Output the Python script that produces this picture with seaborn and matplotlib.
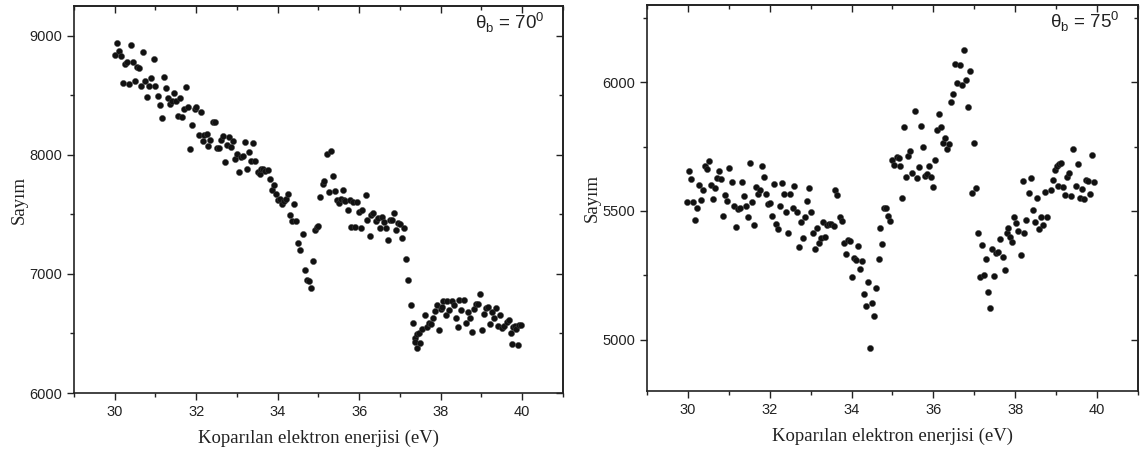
import matplotlib
matplotlib.use("Agg")
import matplotlib.pyplot as plt
from matplotlib.ticker import MultipleLocator
import seaborn as sns

# theta_b = 70 deg panel
energy_70 = [
    30.00, 30.05, 30.10, 30.15, 30.20, 30.26, 30.31, 30.35, 30.40, 30.46,
    30.50, 30.55, 30.60, 30.64, 30.70, 30.75, 30.80, 30.85, 30.90, 30.96,
    31.00, 31.05, 31.10, 31.15, 31.20, 31.26, 31.30, 31.36, 31.41, 31.46,
    31.51, 31.56, 31.60, 31.66, 31.70, 31.75, 31.80, 31.85, 31.90, 31.96,
    32.00, 32.06, 32.11, 32.16, 32.20, 32.26, 32.30, 32.35, 32.40, 32.45,
    32.50, 32.55, 32.60, 32.65, 32.70, 32.75, 32.80, 32.85, 32.90, 32.96,
    33.00, 33.05, 33.10, 33.15, 33.20, 33.25, 33.30, 33.35, 33.40, 33.45,
    33.51, 33.56, 33.60, 33.65, 33.70, 33.76, 33.81, 33.86, 33.91, 33.96,
    34.01, 34.05, 34.11, 34.16, 34.21, 34.26, 34.31, 34.36, 34.41, 34.46,
    34.51, 34.55, 34.61, 34.66, 34.71, 34.76, 34.81, 34.86, 34.91, 34.96,
    35.00, 35.05, 35.10, 35.14, 35.20, 35.26, 35.31, 35.35, 35.40, 35.46,
    35.51, 35.55, 35.60, 35.63, 35.66, 35.72, 35.77, 35.81, 35.85, 35.90,
    35.94, 36.00, 36.04, 36.08, 36.16, 36.20, 36.26, 36.30, 36.35, 36.41,
    36.45, 36.51, 36.55, 36.61, 36.66, 36.71, 36.75, 36.81, 36.86, 36.91,
    36.96, 37.01, 37.06, 37.11, 37.16, 37.20, 37.26, 37.31, 37.36, 37.38,
    37.41, 37.43, 37.46, 37.50, 37.54, 37.62, 37.66, 37.72, 37.76, 37.82,
    37.86, 37.91, 37.95, 38.00, 38.02, 38.06, 38.12, 38.16, 38.21, 38.27,
    38.32, 38.37, 38.42, 38.45, 38.51, 38.56, 38.62, 38.66, 38.72, 38.77,
    38.81, 38.86, 38.91, 38.96, 39.01, 39.06, 39.10, 39.15, 39.21, 39.26,
    39.31, 39.36, 39.41, 39.46, 39.51, 39.56, 39.62, 39.67, 39.72, 39.75,
    39.77, 39.82, 39.86, 39.90, 39.92, 39.97,
]
counts_70 = [
    8841, 8939, 8874, 8827, 8606, 8763, 8782, 8592, 8919, 8776,
    8623, 8740, 8726, 8581, 8866, 8623, 8483, 8581, 8648, 8804,
    8581, 8497, 8422, 8310, 8653, 8558, 8478, 8427, 8455, 8519,
    8455, 8329, 8478, 8321, 8386, 8573, 8405, 8050, 8248, 8386,
    8405, 8168, 8357, 8120, 8164, 8176, 8076, 8123, 8279, 8273,
    8055, 8055, 8126, 8159, 7941, 8086, 8151, 8070, 8114, 7969,
    8003, 7854, 7980, 7992, 8106, 7883, 8022, 7952, 8101, 7952,
    7854, 7841, 7879, 7883, 7868, 7874, 7793, 7701, 7749, 7673,
    7619, 7633, 7591, 7613, 7633, 7675, 7494, 7441, 7587, 7441,
    7262, 7198, 7338, 7033, 6953, 6938, 6880, 7109, 7366, 7394,
    7402, 7650, 7756, 7779, 8003, 7692, 8036, 7821, 7700, 7623,
    7594, 7631, 7709, 7617, 7611, 7541, 7620, 7397, 7600, 7397,
    7605, 7522, 7389, 7541, 7667, 7455, 7318, 7491, 7510, 7443,
    7471, 7385, 7477, 7435, 7385, 7288, 7455, 7449, 7511, 7371,
    7429, 7421, 7301, 7385, 7128, 6953, 6743, 6589, 6458, 6430,
    6494, 6380, 6508, 6420, 6536, 6653, 6555, 6589, 6583, 6634,
    6689, 6737, 6533, 6709, 6723, 6770, 6659, 6770, 6701, 6776,
    6737, 6630, 6555, 6779, 6701, 6785, 6589, 6681, 6634, 6513,
    6709, 6751, 6745, 6835, 6527, 6667, 6714, 6723, 6578, 6681,
    6630, 6712, 6563, 6653, 6547, 6561, 6597, 6617, 6508, 6410,
    6555, 6563, 6536, 6405, 6567, 6569,
]

# theta_b = 75 deg panel
energy_75 = [
    29.97, 30.03, 30.07, 30.12, 30.17, 30.22, 30.28, 30.32, 30.38, 30.42,
    30.47, 30.52, 30.57, 30.62, 30.67, 30.71, 30.77, 30.82, 30.87, 30.91,
    30.96, 31.01, 31.07, 31.12, 31.17, 31.22, 31.27, 31.32, 31.36, 31.41,
    31.46, 31.51, 31.56, 31.62, 31.67, 31.71, 31.76, 31.82, 31.87, 31.92,
    31.97, 32.01, 32.06, 32.11, 32.16, 32.21, 32.26, 32.31, 32.36, 32.41,
    32.45, 32.50, 32.56, 32.60, 32.66, 32.72, 32.76, 32.81, 32.86, 32.90,
    32.96, 33.01, 33.06, 33.11, 33.16, 33.20, 33.25, 33.30, 33.36, 33.41,
    33.46, 33.51, 33.56, 33.60, 33.65, 33.71, 33.76, 33.81, 33.86, 33.91,
    33.96, 34.00, 34.05, 34.10, 34.15, 34.20, 34.25, 34.30, 34.35, 34.40,
    34.45, 34.50, 34.55, 34.61, 34.66, 34.70, 34.75, 34.80, 34.85, 34.90,
    34.95, 35.00, 35.05, 35.10, 35.15, 35.19, 35.24, 35.29, 35.34, 35.39,
    35.44, 35.49, 35.54, 35.60, 35.65, 35.70, 35.74, 35.79, 35.84, 35.89,
    35.94, 35.99, 36.04, 36.09, 36.14, 36.19, 36.24, 36.29, 36.34, 36.38,
    36.43, 36.48, 36.53, 36.58, 36.64, 36.69, 36.74, 36.79, 36.84, 36.89,
    36.94, 36.99, 37.04, 37.09, 37.13, 37.18, 37.23, 37.29, 37.34, 37.39,
    37.44, 37.48, 37.53, 37.58, 37.63, 37.69, 37.74, 37.79, 37.83, 37.88,
    37.93, 37.98, 38.03, 38.08, 38.13, 38.18, 38.22, 38.27, 38.33, 38.39,
    38.43, 38.48, 38.54, 38.58, 38.63, 38.67, 38.73, 38.77, 38.88, 38.93,
    38.98, 39.02, 39.05, 39.07, 39.12, 39.17, 39.22, 39.27, 39.32, 39.37,
    39.42, 39.48, 39.53, 39.58, 39.63, 39.68, 39.73, 39.78, 39.83, 39.88,
    39.92,
]
counts_75 = [
    5536, 5654, 5624, 5536, 5465, 5511, 5600, 5543, 5581, 5676,
    5663, 5694, 5602, 5548, 5589, 5626, 5654, 5624, 5480, 5561,
    5539, 5667, 5612, 5520, 5438, 5507, 5511, 5611, 5556, 5520,
    5477, 5685, 5536, 5445, 5591, 5565, 5582, 5673, 5630, 5565,
    5526, 5532, 5480, 5604, 5450, 5429, 5517, 5607, 5565, 5497,
    5415, 5565, 5513, 5596, 5494, 5361, 5458, 5393, 5478, 5539,
    5587, 5494, 5415, 5353, 5435, 5376, 5396, 5456, 5398, 5445,
    5450, 5448, 5440, 5581, 5561, 5477, 5461, 5376, 5331, 5386,
    5383, 5242, 5315, 5309, 5365, 5275, 5307, 5176, 5130, 5224,
    4969, 5143, 5090, 5200, 5314, 5432, 5372, 5511, 5511, 5480,
    5461, 5698, 5679, 5710, 5705, 5676, 5550, 5824, 5633, 5715,
    5734, 5646, 5887, 5626, 5672, 5830, 5748, 5637, 5643, 5673,
    5630, 5594, 5698, 5813, 5875, 5826, 5764, 5784, 5741, 5761,
    5923, 5953, 6070, 5997, 6066, 5988, 6125, 6008, 5904, 6043,
    5568, 5763, 5589, 5413, 5243, 5367, 5250, 5311, 5184, 5122,
    5350, 5246, 5337, 5341, 5389, 5320, 5271, 5415, 5432, 5398,
    5379, 5478, 5452, 5422, 5328, 5616, 5415, 5464, 5568, 5628,
    5503, 5457, 5550, 5431, 5478, 5444, 5574, 5478, 5581, 5621,
    5659, 5676, 5598, 5682, 5685, 5591, 5563, 5630, 5647, 5559,
    5741, 5595, 5682, 5550, 5585, 5546, 5620, 5615, 5565, 5719,
    5613,
]

x_ticks = [30, 32, 34, 36, 38, 40]
y_ticks_70 = [6000, 7000, 8000, 9000]
y_ticks_75 = [5000, 5500, 6000]
angle_labels = ["70", "75"]

sns.set_style("ticks")
plt.rcParams["font.family"] = ["Liberation Sans", "DejaVu Sans"]
plt.rcParams["mathtext.fontset"] = "custom"
plt.rcParams["mathtext.rm"] = "Liberation Sans"

INK = "#222222"
SERIF = ["Liberation Serif", "DejaVu Serif"]

fig = plt.figure(figsize=(11.4, 4.58), dpi=100)
ax_l = fig.add_axes([0.0649, 0.1419, 0.4289, 0.845])
ax_r = fig.add_axes([0.5675, 0.1463, 0.4307, 0.8428])


def style_panel(ax, y_ticks, y_minor, ylim, label):
    ax.set_xlim(29, 41)
    ax.set_ylim(*ylim)
    ax.set_xticks(x_ticks)
    ax.set_yticks(y_ticks)
    ax.xaxis.set_minor_locator(MultipleLocator(1))
    ax.yaxis.set_minor_locator(MultipleLocator(y_minor))
    ax.tick_params(which="both", direction="out", top=False, right=False,
                   colors=INK, width=1.0, labelsize=10.5)
    ax.tick_params(which="major", length=5)
    ax.tick_params(which="minor", length=3)
    for s in ax.spines.values():
        s.set_visible(True)
        s.set_linewidth(1.2)
        s.set_color(INK)

    # mirrored ticks on top / right, pointing inwards
    top = ax.secondary_xaxis("top")
    top.set_xticks(x_ticks)
    top.xaxis.set_minor_locator(MultipleLocator(1))
    top.tick_params(which="both", direction="in", labeltop=False, colors=INK, width=1.0)
    top.tick_params(which="major", length=5)
    top.tick_params(which="minor", length=3)
    right = ax.secondary_yaxis("right")
    right.set_yticks(y_ticks)
    right.yaxis.set_minor_locator(MultipleLocator(y_minor))
    right.tick_params(which="both", direction="in", labelright=False, colors=INK, width=1.0)
    right.tick_params(which="major", length=5)
    right.tick_params(which="minor", length=3)
    for sec in (top, right):
        for s in sec.spines.values():
            s.set_linewidth(1.2)
            s.set_color(INK)

    ax.set_xlabel("Koparılan elektron enerjisi (eV)", family=SERIF, fontsize=13.5,
                  color=INK, labelpad=8)
    ax.set_ylabel("Sayım", family=SERIF, fontsize=13.5, color=INK)
    ax.yaxis.set_label_coords(-0.095, 0.5)
    ax.text(0.82, 0.955, "θ$_\\mathregular{b}$ = " + label + "$^\\mathregular{0}$",
            transform=ax.transAxes, fontsize=13.5, color=INK, va="center", ha="left")


sns.scatterplot(x=energy_70, y=counts_70, ax=ax_l, color="#111111", s=20,
                edgecolor="#444444", linewidth=0.3)
sns.scatterplot(x=energy_75, y=counts_75, ax=ax_r, color="#111111", s=20,
                edgecolor="#444444", linewidth=0.3)

style_panel(ax_l, y_ticks_70, 500, (6000, 9250), angle_labels[0])
style_panel(ax_r, y_ticks_75, 250, (4800, 6300), angle_labels[1])

fig.savefig("out.png", dpi=100)
